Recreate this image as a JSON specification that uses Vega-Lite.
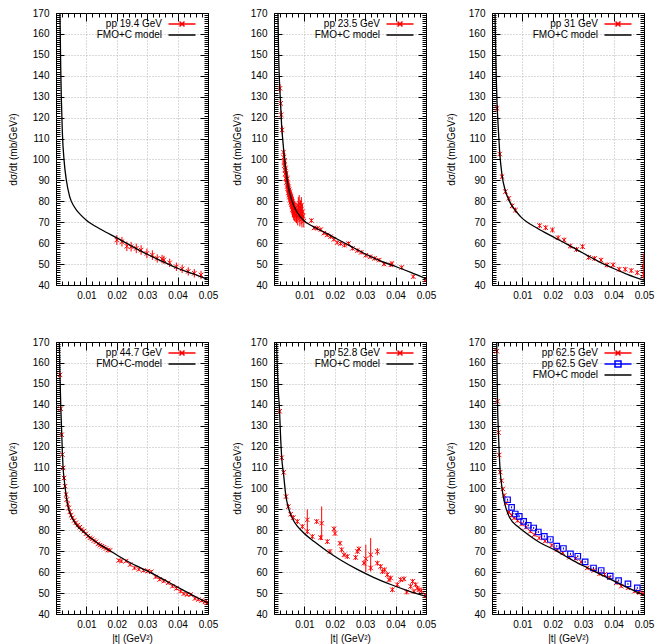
{
"$schema":"https://vega.github.io/schema/vega-lite/v6.json",
"padding":{"left":7,"top":7,"right":0,"bottom":0},
"background":"white",
"config":{
 "view":{"stroke":"#000","strokeWidth":1},
 "axis":{"labelFont":"Liberation Sans","labelFontSize":10,"labelColor":"#000","titleFont":"Liberation Sans","titleFontSize":10,"titleFontWeight":"normal","titleColor":"#000","tickColor":"#000","tickWidth":1,"gridColor":"#b4b4b4","gridDash":[1,2],"gridWidth":1},
 "legend":{"padding":0,"symbolSize":25,"symbolStrokeWidth":1.5,"labelAlign":"right","labelOffset":-25,"labelFont":"Liberation Sans","labelFontSize":10,"labelColor":"#000","rowPadding":-2,"labelLimit":200}
},
"datasets":{
"m1":[{"t":0.0013,"y":170},{"t":0.00155,"y":144.3},{"t":0.00177,"y":128.4},{"t":0.0021,"y":112.5},{"t":0.00265,"y":99.7},{"t":0.0034,"y":90.2},{"t":0.0045,"y":82.2},{"t":0.006,"y":77.4},{"t":0.0082,"y":73.4},{"t":0.01,"y":71},{"t":0.015,"y":66.4},{"t":0.02,"y":62.5},{"t":0.025,"y":58.5},{"t":0.03,"y":54.7},{"t":0.035,"y":51.3},{"t":0.04,"y":48},{"t":0.045,"y":45.4},{"t":0.05,"y":42.6}],
"d1":[{"t":0.02,"y":61.5,"lo":59.2,"hi":63.8},{"t":0.0217,"y":60.7,"lo":58.4,"hi":63},{"t":0.0233,"y":58.5,"lo":56.2,"hi":60.8},{"t":0.0247,"y":58.3,"lo":56,"hi":60.6},{"t":0.0264,"y":57.5,"lo":55.2,"hi":59.8},{"t":0.028,"y":56.7,"lo":54.4,"hi":59},{"t":0.0299,"y":55.1,"lo":52.8,"hi":57.4},{"t":0.0317,"y":54.3,"lo":52,"hi":56.6},{"t":0.0333,"y":52.7,"lo":50.7,"hi":54.7},{"t":0.0349,"y":52.4,"lo":50.4,"hi":54.4},{"t":0.0355,"y":52,"lo":50,"hi":54},{"t":0.0374,"y":50.6,"lo":48.6,"hi":52.6},{"t":0.0396,"y":48.7,"lo":46.7,"hi":50.7},{"t":0.0415,"y":47.7,"lo":45.7,"hi":49.7},{"t":0.0435,"y":46.5,"lo":44.5,"hi":48.5},{"t":0.0455,"y":45.6,"lo":43.6,"hi":47.6},{"t":0.0477,"y":44.8,"lo":42.8,"hi":46.8}],
"m2":[{"t":0.0013,"y":170},{"t":0.0015,"y":152},{"t":0.0018,"y":137},{"t":0.00197,"y":132},{"t":0.0022,"y":125.5},{"t":0.0025,"y":116.5},{"t":0.0029,"y":109},{"t":0.0033,"y":103},{"t":0.0039,"y":95},{"t":0.0047,"y":87},{"t":0.0058,"y":80.6},{"t":0.0075,"y":75},{"t":0.0096,"y":71.1},{"t":0.0129,"y":67.9},{"t":0.0173,"y":64.7},{"t":0.0206,"y":62.1},{"t":0.025,"y":58.7},{"t":0.0294,"y":55.3},{"t":0.035,"y":51.5},{"t":0.0404,"y":48.6},{"t":0.045,"y":46},{"t":0.05,"y":43}],
"d2":[{"t":0.00197,"y":134,"lo":132,"hi":136},{"t":0.0022,"y":126.8,"lo":124.8,"hi":128.8},{"t":0.0024,"y":121.3,"lo":119.3,"hi":123.3},{"t":0.0027,"y":114.1,"lo":112.1,"hi":116.1},
{"t":0.0031,"y":103.5,"lo":101.5,"hi":105.5},{"t":0.0032,"y":101,"lo":99,"hi":103},{"t":0.0033,"y":98.5,"lo":96.5,"hi":100.5},{"t":0.0034,"y":97,"lo":95,"hi":99},{"t":0.0035,"y":99.5,"lo":97,"hi":102},{"t":0.0036,"y":95,"lo":92.5,"hi":97.5},{"t":0.0037,"y":93,"lo":90.5,"hi":95.5},{"t":0.0038,"y":96,"lo":93.5,"hi":98.5},{"t":0.0039,"y":91,"lo":88.5,"hi":93.5},{"t":0.004,"y":93.5,"lo":91,"hi":96},{"t":0.0041,"y":89,"lo":86.5,"hi":91.5},{"t":0.0042,"y":90.5,"lo":87.5,"hi":93.5},{"t":0.0043,"y":87,"lo":84,"hi":90},{"t":0.0044,"y":91,"lo":88,"hi":94},{"t":0.0045,"y":86,"lo":83,"hi":89},{"t":0.0046,"y":88,"lo":85,"hi":91},{"t":0.0047,"y":84,"lo":81,"hi":87},{"t":0.0048,"y":87,"lo":84,"hi":90},{"t":0.0049,"y":83,"lo":80,"hi":86},{"t":0.005,"y":85.5,"lo":82.5,"hi":88.5},{"t":0.0051,"y":82,"lo":79,"hi":85},{"t":0.0052,"y":84.5,"lo":81.5,"hi":87.5},{"t":0.0053,"y":80.5,"lo":77.5,"hi":83.5},{"t":0.0054,"y":83,"lo":80,"hi":86},{"t":0.0055,"y":79.5,"lo":76.5,"hi":82.5},{"t":0.0056,"y":82,"lo":79,"hi":85},{"t":0.0057,"y":78.5,"lo":75.5,"hi":81.5},{"t":0.0058,"y":81,"lo":77.5,"hi":84.5},{"t":0.0059,"y":77.5,"lo":74,"hi":81},{"t":0.006,"y":80,"lo":76.5,"hi":83.5},{"t":0.0061,"y":76,"lo":72.5,"hi":79.5},{"t":0.0062,"y":79,"lo":75.5,"hi":82.5},{"t":0.0063,"y":75.5,"lo":72,"hi":79},{"t":0.0064,"y":78,"lo":74.5,"hi":81.5},{"t":0.0065,"y":74.5,"lo":71,"hi":78},{"t":0.0066,"y":77,"lo":73.5,"hi":80.5},{"t":0.0067,"y":74,"lo":70.5,"hi":77.5},{"t":0.0068,"y":76.5,"lo":73,"hi":80},{"t":0.007,"y":73.5,"lo":70,"hi":77},{"t":0.0072,"y":76,"lo":72.5,"hi":79.5},{"t":0.0074,"y":73,"lo":69.5,"hi":76.5},{"t":0.0076,"y":75.5,"lo":72,"hi":79},{"t":0.0078,"y":72.5,"lo":68.5,"hi":76.5},{"t":0.008,"y":78,"lo":74,"hi":82},{"t":0.0082,"y":74,"lo":70,"hi":78},{"t":0.0083,"y":79,"lo":75,"hi":83},{"t":0.0085,"y":72,"lo":68,"hi":76},{"t":0.0087,"y":76.5,"lo":72.5,"hi":80.5},{"t":0.0089,"y":73,"lo":69,"hi":77},{"t":0.009,"y":78,"lo":74,"hi":82},{"t":0.0092,"y":71.5,"lo":67.5,"hi":75.5},{"t":0.0094,"y":75,"lo":71,"hi":79},{"t":0.0096,"y":73,"lo":70,"hi":76},{"t":0.0098,"y":70.5,"lo":67.5,"hi":73.5},
{"t":0.0123,"y":70.8,"lo":69.8,"hi":71.8},{"t":0.0132,"y":67.3,"lo":66.3,"hi":68.3},{"t":0.0143,"y":67.1,"lo":66.1,"hi":68.1},{"t":0.0154,"y":66.5,"lo":65.5,"hi":67.5},{"t":0.0164,"y":64.8,"lo":63.8,"hi":65.8},{"t":0.0175,"y":63.9,"lo":62.9,"hi":64.9},{"t":0.0186,"y":63.1,"lo":62.1,"hi":64.1},{"t":0.0197,"y":61.8,"lo":60.8,"hi":62.8},{"t":0.0208,"y":60.3,"lo":59.3,"hi":61.3},{"t":0.0219,"y":59.8,"lo":58.8,"hi":60.8},{"t":0.0232,"y":59,"lo":58,"hi":60},{"t":0.0245,"y":59.8,"lo":58.8,"hi":60.8},{"t":0.0258,"y":57.5,"lo":56.5,"hi":58.5},{"t":0.0274,"y":56.5,"lo":55.5,"hi":57.5},{"t":0.0287,"y":55.6,"lo":54.6,"hi":56.6},{"t":0.0302,"y":54.2,"lo":53.2,"hi":55.2},{"t":0.0316,"y":53.5,"lo":52.5,"hi":54.5},{"t":0.0331,"y":52.7,"lo":51.7,"hi":53.7},{"t":0.0346,"y":51.9,"lo":50.9,"hi":52.9},{"t":0.0362,"y":50,"lo":49,"hi":51},{"t":0.0384,"y":49.6,"lo":48.6,"hi":50.6},{"t":0.0388,"y":50.3,"lo":49.3,"hi":51.3},{"t":0.042,"y":48.4,"lo":47.4,"hi":49.4},{"t":0.0458,"y":44,"lo":43,"hi":45},{"t":0.0499,"y":42.6,"lo":41.6,"hi":43.6}],
"m3":[{"t":0.001,"y":170},{"t":0.0012,"y":152},{"t":0.00166,"y":127},{"t":0.0021,"y":114},{"t":0.0025,"y":104},{"t":0.0033,"y":92.5},{"t":0.0044,"y":85},{"t":0.0055,"y":80.8},{"t":0.0066,"y":77.8},{"t":0.0094,"y":72.7},{"t":0.0149,"y":67.1},{"t":0.02,"y":63.1},{"t":0.0248,"y":59.4},{"t":0.0299,"y":55.3},{"t":0.0348,"y":51.4},{"t":0.0398,"y":48},{"t":0.0447,"y":45},{"t":0.05,"y":42.3}],
"d3":[{"t":0.00166,"y":124.4,"lo":123.2,"hi":125.6},{"t":0.00254,"y":102.6,"lo":101.4,"hi":103.8},{"t":0.00331,"y":91.8,"lo":90.6,"hi":93},{"t":0.00442,"y":84.6,"lo":83.4,"hi":85.8},{"t":0.00552,"y":81.4,"lo":80.2,"hi":82.6},{"t":0.00662,"y":77.8,"lo":76.6,"hi":79},{"t":0.00773,"y":75.8,"lo":74.6,"hi":77},{"t":0.01567,"y":68.4,"lo":67.2,"hi":69.6},{"t":0.01766,"y":67.4,"lo":66.2,"hi":68.6},{"t":0.01987,"y":66.3,"lo":65.1,"hi":67.5},{"t":0.02174,"y":62.6,"lo":61.4,"hi":63.8},{"t":0.02373,"y":61.5,"lo":60.3,"hi":62.7},{"t":0.02572,"y":58.6,"lo":57.4,"hi":59.8},{"t":0.02781,"y":57,"lo":55.8,"hi":58.2},{"t":0.0298,"y":58.3,"lo":57.1,"hi":59.5},{"t":0.03179,"y":53.2,"lo":52,"hi":54.4},{"t":0.03377,"y":52.7,"lo":51.5,"hi":53.9},{"t":0.03587,"y":51.9,"lo":50.7,"hi":53.1},{"t":0.03786,"y":49.6,"lo":48.4,"hi":50.8},{"t":0.03985,"y":49.6,"lo":48.4,"hi":50.8},{"t":0.04183,"y":47.5,"lo":46.3,"hi":48.7},{"t":0.04382,"y":47.5,"lo":46.3,"hi":48.7},{"t":0.0458,"y":46.9,"lo":45.7,"hi":48.1},{"t":0.04779,"y":45.9,"lo":44.7,"hi":47.1},{"t":0.0499,"y":48.8,"lo":43,"hi":55},{"t":0.0499,"y":45,"lo":43.5,"hi":46.5}],
"m4":[{"t":0.0011,"y":170},{"t":0.0013,"y":154},{"t":0.0016,"y":138},{"t":0.0019,"y":125.7},{"t":0.0021,"y":117},{"t":0.0023,"y":110.5},{"t":0.0026,"y":105.5},{"t":0.003,"y":100.5},{"t":0.0035,"y":95},{"t":0.0042,"y":90},{"t":0.005,"y":86.8},{"t":0.0065,"y":83},{"t":0.0093,"y":79},{"t":0.0131,"y":74.5},{"t":0.0175,"y":70.5},{"t":0.0222,"y":66.3},{"t":0.0272,"y":62.5},{"t":0.0319,"y":59.2},{"t":0.0369,"y":55.3},{"t":0.0418,"y":51.4},{"t":0.0462,"y":48},{"t":0.05,"y":45.3}],
"d4":[{"t":0.00132,"y":154.3,"lo":153.5,"hi":155.1},{"t":0.00155,"y":138.1,"lo":137.3,"hi":138.9},{"t":0.00188,"y":125.7,"lo":124.9,"hi":126.5},{"t":0.0021,"y":116.2,"lo":115.4,"hi":117},{"t":0.00232,"y":109.8,"lo":109,"hi":110.6},{"t":0.00265,"y":105,"lo":104.2,"hi":105.8},{"t":0.00298,"y":101.1,"lo":100.3,"hi":101.9},{"t":0.00331,"y":97.1,"lo":96.3,"hi":97.9},{"t":0.00353,"y":94.7,"lo":93.9,"hi":95.5},{"t":0.00386,"y":92.6,"lo":91.8,"hi":93.4},{"t":0.00419,"y":90.7,"lo":89.9,"hi":91.5},{"t":0.00453,"y":88.8,"lo":88,"hi":89.6},{"t":0.00497,"y":87.2,"lo":86.4,"hi":88},{"t":0.00541,"y":86,"lo":85.2,"hi":86.8},{"t":0.00596,"y":84.7,"lo":83.9,"hi":85.5},{"t":0.00651,"y":83.6,"lo":82.8,"hi":84.4},{"t":0.00717,"y":82.5,"lo":81.7,"hi":83.3},{"t":0.00784,"y":81.5,"lo":80.7,"hi":82.3},{"t":0.0085,"y":80.4,"lo":79.6,"hi":81.2},{"t":0.00916,"y":79.6,"lo":78.8,"hi":80.4},{"t":0.00982,"y":78.3,"lo":77.5,"hi":79.1},{"t":0.01049,"y":77.2,"lo":76.4,"hi":78},{"t":0.01115,"y":76.4,"lo":75.6,"hi":77.2},{"t":0.01181,"y":75.9,"lo":75.1,"hi":76.7},{"t":0.01247,"y":75.1,"lo":74.3,"hi":75.9},{"t":0.01313,"y":74.5,"lo":73.7,"hi":75.3},{"t":0.0138,"y":73.5,"lo":72.7,"hi":74.3},{"t":0.01446,"y":72.9,"lo":72.1,"hi":73.7},{"t":0.01512,"y":72.4,"lo":71.6,"hi":73.2},{"t":0.01578,"y":71.9,"lo":71.1,"hi":72.7},{"t":0.01645,"y":71.3,"lo":70.5,"hi":72.1},{"t":0.01711,"y":70.6,"lo":69.8,"hi":71.4},{"t":0.01777,"y":70.4,"lo":69.6,"hi":71.2},{"t":0.02064,"y":65.6,"lo":64.8,"hi":66.4},{"t":0.02152,"y":65.3,"lo":64.5,"hi":66.1},{"t":0.02307,"y":65.3,"lo":64.5,"hi":66.1},{"t":0.02439,"y":63.6,"lo":62.8,"hi":64.4},{"t":0.02583,"y":62,"lo":61.2,"hi":62.8},{"t":0.02726,"y":61.3,"lo":60.5,"hi":62.1},{"t":0.02881,"y":60.8,"lo":60,"hi":61.6},{"t":0.03024,"y":60.5,"lo":59.7,"hi":61.3},{"t":0.03135,"y":60.2,"lo":59.4,"hi":61},{"t":0.03278,"y":57.7,"lo":56.9,"hi":58.5},{"t":0.03411,"y":56.5,"lo":55.7,"hi":57.3},{"t":0.03543,"y":55.7,"lo":54.9,"hi":56.5},{"t":0.03687,"y":54.9,"lo":54.1,"hi":55.7},{"t":0.0383,"y":53.3,"lo":52.5,"hi":54.1},{"t":0.03962,"y":52.2,"lo":51.4,"hi":53},{"t":0.04095,"y":50.9,"lo":50.1,"hi":51.7},{"t":0.04205,"y":49.7,"lo":48.9,"hi":50.5},{"t":0.04316,"y":49.3,"lo":48.5,"hi":50.1},{"t":0.04426,"y":49.3,"lo":48.5,"hi":50.1},{"t":0.0457,"y":47.4,"lo":46.6,"hi":48.2},{"t":0.0468,"y":46.9,"lo":46.1,"hi":47.7},{"t":0.0479,"y":46.4,"lo":45.6,"hi":47.2},{"t":0.049,"y":45.8,"lo":45,"hi":46.6},{"t":0.04978,"y":45.4,"lo":44.6,"hi":46.2}],
"m5":[{"t":0.0008,"y":170},{"t":0.0011,"y":158},{"t":0.0014,"y":147},{"t":0.0018,"y":138},{"t":0.0021,"y":127},{"t":0.0025,"y":115.5},{"t":0.0032,"y":106},{"t":0.0039,"y":96.5},{"t":0.0047,"y":91},{"t":0.0055,"y":87.5},{"t":0.0066,"y":84.2},{"t":0.0093,"y":79.4},{"t":0.0132,"y":74.6},{"t":0.0175,"y":70},{"t":0.0219,"y":65.8},{"t":0.0274,"y":61.3},{"t":0.0329,"y":57.4},{"t":0.0384,"y":54.1},{"t":0.0439,"y":51.2},{"t":0.05,"y":48.4}],
"d5":[{"t":0.00186,"y":136.9,"lo":135.7,"hi":138.1},{"t":0.00252,"y":114.7,"lo":113.5,"hi":115.9},{"t":0.00318,"y":107.7,"lo":106.5,"hi":108.9},{"t":0.00395,"y":96.1,"lo":94.9,"hi":97.3},{"t":0.00471,"y":91.3,"lo":90.1,"hi":92.5},{"t":0.00548,"y":87.7,"lo":86.5,"hi":88.9},{"t":0.00636,"y":86.1,"lo":84.9,"hi":87.3},{"t":0.00768,"y":84.2,"lo":83,"hi":85.4},{"t":0.00932,"y":81.8,"lo":80.6,"hi":83},{"t":0.01096,"y":85,"lo":80,"hi":90},{"t":0.01096,"y":79.4,"lo":78.2,"hi":80.6},{"t":0.01261,"y":77,"lo":75.8,"hi":78.2},{"t":0.01404,"y":84.2,"lo":83,"hi":85.4},{"t":0.01535,"y":76.5,"lo":75.3,"hi":77.7},{"t":0.01568,"y":83.4,"lo":75.4,"hi":91.4},{"t":0.01754,"y":74.6,"lo":73.4,"hi":75.8},{"t":0.01842,"y":69.9,"lo":68.7,"hi":71.1},{"t":0.01974,"y":80.7,"lo":79.5,"hi":81.9},{"t":0.02007,"y":78.5,"lo":77.3,"hi":79.7},{"t":0.02171,"y":73.8,"lo":72.6,"hi":75},{"t":0.02226,"y":70.7,"lo":69.5,"hi":71.9},{"t":0.02303,"y":68.3,"lo":67.1,"hi":69.5},{"t":0.02412,"y":67.5,"lo":66.3,"hi":68.7},{"t":0.02686,"y":67,"lo":65.8,"hi":68.2},{"t":0.02741,"y":69.9,"lo":68.7,"hi":71.1},{"t":0.02796,"y":71.1,"lo":69.9,"hi":72.3},{"t":0.02961,"y":64.3,"lo":63.1,"hi":65.5},{"t":0.0302,"y":66.4,"lo":60,"hi":73.1},{"t":0.0318,"y":68.3,"lo":60.3,"hi":76.3},{"t":0.0318,"y":62,"lo":60.8,"hi":63.2},{"t":0.034,"y":69.9,"lo":68,"hi":71.5},{"t":0.034,"y":64.3,"lo":63.1,"hi":65.5},{"t":0.03509,"y":62.7,"lo":61.5,"hi":63.9},{"t":0.03564,"y":60.3,"lo":59.1,"hi":61.5},{"t":0.0364,"y":61.1,"lo":59.9,"hi":62.3},{"t":0.03728,"y":58.8,"lo":57.6,"hi":60},{"t":0.03783,"y":56.4,"lo":55.2,"hi":57.6},{"t":0.03838,"y":57.2,"lo":56,"hi":58.4},{"t":0.03893,"y":51.6,"lo":50.4,"hi":52.8},{"t":0.04057,"y":54,"lo":52.8,"hi":55.2},{"t":0.04167,"y":56.4,"lo":55.2,"hi":57.6},{"t":0.04276,"y":56.8,"lo":55.6,"hi":58},{"t":0.04364,"y":50.5,"lo":49.3,"hi":51.7},{"t":0.04496,"y":53.2,"lo":52,"hi":54.4},{"t":0.04561,"y":55.6,"lo":54.4,"hi":56.8},{"t":0.04605,"y":50.8,"lo":49.6,"hi":52},{"t":0.0466,"y":54,"lo":52.8,"hi":55.2},{"t":0.04715,"y":52.4,"lo":51.2,"hi":53.6},{"t":0.0477,"y":51.6,"lo":50.4,"hi":52.8},{"t":0.04846,"y":51.1,"lo":49.9,"hi":52.3},{"t":0.04989,"y":48.7,"lo":47.5,"hi":49.9}],
"m6":[{"t":0.00155,"y":170},{"t":0.0016,"y":165.5},{"t":0.0018,"y":142},{"t":0.0021,"y":127},{"t":0.0024,"y":116},{"t":0.0027,"y":108},{"t":0.0031,"y":102.5},{"t":0.0036,"y":97},{"t":0.0046,"y":90.6},{"t":0.0058,"y":86.1},{"t":0.0084,"y":81.9},{"t":0.0102,"y":79.8},{"t":0.0157,"y":74.2},{"t":0.0212,"y":70.2},{"t":0.0267,"y":65.5},{"t":0.0322,"y":61.5},{"t":0.0377,"y":57.5},{"t":0.0432,"y":53.6},{"t":0.05,"y":49}],
"d6a":[{"t":0.0016,"y":165.6,"lo":164.8,"hi":166.4},{"t":0.0018,"y":141.7,"lo":140.9,"hi":142.5},{"t":0.00215,"y":126.7,"lo":125.9,"hi":127.5},{"t":0.00237,"y":116,"lo":115.2,"hi":116.8},{"t":0.0027,"y":107.8,"lo":107,"hi":108.6},{"t":0.00314,"y":103.7,"lo":102.9,"hi":104.5},{"t":0.00358,"y":99.8,"lo":99,"hi":100.6},{"t":0.00402,"y":96.7,"lo":95.9,"hi":97.5},{"t":0.00468,"y":93,"lo":92.2,"hi":93.8},{"t":0.00556,"y":88.7,"lo":87.9,"hi":89.5},{"t":0.00644,"y":87.1,"lo":86.3,"hi":87.9},{"t":0.00732,"y":85.9,"lo":85.1,"hi":86.7},{"t":0.00842,"y":84.6,"lo":83.8,"hi":85.4},{"t":0.00974,"y":83,"lo":82.2,"hi":83.8},{"t":0.01117,"y":81.4,"lo":80.6,"hi":82.2},{"t":0.0126,"y":79.5,"lo":78.7,"hi":80.3},{"t":0.01392,"y":77.9,"lo":77.1,"hi":78.7},{"t":0.01557,"y":76.3,"lo":75.5,"hi":77.1},{"t":0.01744,"y":74.8,"lo":74,"hi":75.6},{"t":0.01964,"y":72.9,"lo":72.1,"hi":73.7},{"t":0.0214,"y":70.8,"lo":70,"hi":71.6},{"t":0.02327,"y":69.2,"lo":68.4,"hi":70},{"t":0.02547,"y":67.1,"lo":66.3,"hi":67.9},{"t":0.02745,"y":66.5,"lo":65.7,"hi":67.3},{"t":0.02932,"y":64.9,"lo":64.1,"hi":65.7},{"t":0.0313,"y":62,"lo":61.2,"hi":62.8},{"t":0.0335,"y":60.8,"lo":60,"hi":61.6},{"t":0.03537,"y":59.2,"lo":58.4,"hi":60},{"t":0.03702,"y":58.9,"lo":58.1,"hi":59.7},{"t":0.03867,"y":57.3,"lo":56.5,"hi":58.1},{"t":0.04087,"y":54.9,"lo":54.1,"hi":55.7},{"t":0.04252,"y":53.3,"lo":52.5,"hi":54.1},{"t":0.04472,"y":52.5,"lo":51.7,"hi":53.3},{"t":0.04692,"y":50.9,"lo":50.1,"hi":51.7},{"t":0.04857,"y":50.2,"lo":49.4,"hi":51},{"t":0.04967,"y":49.7,"lo":48.9,"hi":50.5}],
"d6b":[{"t":0.00512,"y":94.6,"lo":94.1,"hi":95.1},{"t":0.00644,"y":91,"lo":90.5,"hi":91.5},{"t":0.00765,"y":87.8,"lo":87.3,"hi":88.3},{"t":0.00897,"y":86.7,"lo":86.2,"hi":87.2},{"t":0.0104,"y":84.3,"lo":83.8,"hi":84.8},{"t":0.01194,"y":82.4,"lo":81.9,"hi":82.9},{"t":0.0137,"y":81.1,"lo":80.6,"hi":81.6},{"t":0.01524,"y":79.2,"lo":78.7,"hi":79.7},{"t":0.01722,"y":77.1,"lo":76.6,"hi":77.6},{"t":0.0192,"y":75.6,"lo":75.1,"hi":76.1},{"t":0.02129,"y":72.4,"lo":71.9,"hi":72.9},{"t":0.02349,"y":71.3,"lo":70.8,"hi":71.8},{"t":0.0258,"y":68.7,"lo":68.2,"hi":69.2},{"t":0.02822,"y":67.6,"lo":67.1,"hi":68.1},{"t":0.03064,"y":64.9,"lo":64.4,"hi":65.4},{"t":0.03339,"y":62,"lo":61.5,"hi":62.5},{"t":0.03592,"y":60.8,"lo":60.3,"hi":61.3},{"t":0.03889,"y":58.1,"lo":57.6,"hi":58.6},{"t":0.04164,"y":56,"lo":55.5,"hi":56.5},{"t":0.04472,"y":54.4,"lo":53.9,"hi":54.9},{"t":0.0478,"y":52.5,"lo":52,"hi":53}]
},
"spacing":31,
"bounds":"full",
"resolve":{"scale":{"color":"independent"},"legend":{"color":"independent"}},
"vconcat":[
{"hconcat":[
 {"width":152,"height":272,"layer":[
  {"data":{"name":"d1"},"mark":{"type":"rule","clip":true,"color":"#ff0000","strokeWidth":1},"encoding":{"x":{"field":"t","type":"quantitative","scale":{"domain":[0,0.05],"nice":false,"zero":false},"axis":{"orient":"top","values":[0,0.002,0.004,0.006,0.008,0.01,0.012,0.014,0.016,0.018,0.02,0.022,0.024,0.026,0.028,0.03,0.032,0.034,0.036,0.038,0.04,0.042,0.044,0.046,0.048,0.05],"labels":false,"grid":false,"domain":false,"title":null,"tickSize":{"condition":{"test":"abs(datum.value*100 - round(datum.value*100)) < 0.000001","value":-8},"value":-4}}},"y":{"field":"lo","type":"quantitative","scale":{"domain":[40,170],"nice":false,"zero":false},"axis":{"orient":"right","values":[40,41,42,43,44,45,46,47,48,49,50,51,52,53,54,55,56,57,58,59,60,61,62,63,64,65,66,67,68,69,70,71,72,73,74,75,76,77,78,79,80,81,82,83,84,85,86,87,88,89,90,91,92,93,94,95,96,97,98,99,100,101,102,103,104,105,106,107,108,109,110,111,112,113,114,115,116,117,118,119,120,121,122,123,124,125,126,127,128,129,130,131,132,133,134,135,136,137,138,139,140,141,142,143,144,145,146,147,148,149,150,151,152,153,154,155,156,157,158,159,160,161,162,163,164,165,166,167,168,169,170],"labels":false,"grid":false,"domain":false,"title":null,"tickSize":{"condition":{"test":"datum.value % 10 === 0","value":-8},"value":-4}}},"y2":{"field":"hi"}}},
  {"data":{"name":"d1"},"mark":{"type":"point","shape":"M-1,-1L1,1M-1,1L1,-1","filled":false,"size":20,"color":"#ff0000","strokeWidth":1,"opacity":1,"clip":true},"encoding":{"x":{"field":"t","type":"quantitative","axis":null},"y":{"field":"y","type":"quantitative","axis":null}}},
  {"data":{"name":"m1"},"mark":{"type":"line","interpolate":"monotone","clip":true,"strokeWidth":1.3},"encoding":{"x":{"field":"t","type":"quantitative","axis":{"orient":"bottom","values":[0,0.002,0.004,0.006,0.008,0.01,0.012,0.014,0.016,0.018,0.02,0.022,0.024,0.026,0.028,0.03,0.032,0.034,0.036,0.038,0.04,0.042,0.044,0.046,0.048,0.05],"labelExpr":"abs(datum.value*100 - round(datum.value*100)) < 0.000001 && datum.value > 0.001 ? format(datum.value, '.2f') : ''","labelOverlap":false,"labelFlush":false,"labelPadding":13,"domain":false,"grid":true,"gridOpacity":{"condition":{"test":"abs(datum.value*100 - round(datum.value*100)) < 0.000001 && datum.value > 0.001 && datum.value < 0.049","value":1},"value":0},"title":null,"tickSize":{"condition":{"test":"abs(datum.value*100 - round(datum.value*100)) < 0.000001","value":-8},"value":-4}}},"y":{"field":"y","type":"quantitative","axis":{"orient":"left","values":[40,41,42,43,44,45,46,47,48,49,50,51,52,53,54,55,56,57,58,59,60,61,62,63,64,65,66,67,68,69,70,71,72,73,74,75,76,77,78,79,80,81,82,83,84,85,86,87,88,89,90,91,92,93,94,95,96,97,98,99,100,101,102,103,104,105,106,107,108,109,110,111,112,113,114,115,116,117,118,119,120,121,122,123,124,125,126,127,128,129,130,131,132,133,134,135,136,137,138,139,140,141,142,143,144,145,146,147,148,149,150,151,152,153,154,155,156,157,158,159,160,161,162,163,164,165,166,167,168,169,170],"labelExpr":"datum.value % 10 === 0 ? datum.label : ''","labelOverlap":false,"labelPadding":15,"domain":false,"grid":true,"gridOpacity":{"condition":{"test":"datum.value % 10 === 0 && datum.value > 40 && datum.value < 170","value":1},"value":0},"title":"dσ/dt (mb/GeV²)","titlePadding":14,"tickSize":{"condition":{"test":"datum.value % 10 === 0","value":-8},"value":-4}}},"color":{"datum":"FMO+C model","type":"nominal","scale":{"domain":["pp 19.4 GeV","FMO+C model"],"range":["#ff0000","#000000"]},"legend":{"title":null,"orient":"none","legendX":121,"legendY":6,"labelExpr":"replace(datum.label, ' set 2', '')","encode":{"symbols":{"update":{"shape":{"signal":"indexof(datum.value, 'FMO') === 0 ? 'M-5.4,0L5.4,0' : (indexof(datum.value, 'set 2') >= 0 ? 'M-5.4,0L5.4,0M-1.2,-1.2L1.2,-1.2L1.2,1.2L-1.2,1.2Z' : 'M-5.4,0L5.4,0M-1,-1L1,1M-1,1L1,-1')"},"stroke":{"signal":"indexof(datum.value, 'FMO') === 0 ? '#000000' : (indexof(datum.value, 'set 2') >= 0 ? '#0000ff' : '#ff0000')"},"fill":{"value":"transparent"},"strokeWidth":{"value":1.5}}}}}}}}
 ],"resolve":{"axis":{"x":"independent","y":"independent"}}},
 {"width":152,"height":272,"layer":[
  {"data":{"name":"d2"},"mark":{"type":"rule","clip":true,"color":"#ff0000","strokeWidth":1},"encoding":{"x":{"field":"t","type":"quantitative","scale":{"domain":[0,0.05],"nice":false,"zero":false},"axis":{"orient":"top","values":[0,0.002,0.004,0.006,0.008,0.01,0.012,0.014,0.016,0.018,0.02,0.022,0.024,0.026,0.028,0.03,0.032,0.034,0.036,0.038,0.04,0.042,0.044,0.046,0.048,0.05],"labels":false,"grid":false,"domain":false,"title":null,"tickSize":{"condition":{"test":"abs(datum.value*100 - round(datum.value*100)) < 0.000001","value":-8},"value":-4}}},"y":{"field":"lo","type":"quantitative","scale":{"domain":[40,170],"nice":false,"zero":false},"axis":{"orient":"right","values":[40,41,42,43,44,45,46,47,48,49,50,51,52,53,54,55,56,57,58,59,60,61,62,63,64,65,66,67,68,69,70,71,72,73,74,75,76,77,78,79,80,81,82,83,84,85,86,87,88,89,90,91,92,93,94,95,96,97,98,99,100,101,102,103,104,105,106,107,108,109,110,111,112,113,114,115,116,117,118,119,120,121,122,123,124,125,126,127,128,129,130,131,132,133,134,135,136,137,138,139,140,141,142,143,144,145,146,147,148,149,150,151,152,153,154,155,156,157,158,159,160,161,162,163,164,165,166,167,168,169,170],"labels":false,"grid":false,"domain":false,"title":null,"tickSize":{"condition":{"test":"datum.value % 10 === 0","value":-8},"value":-4}}},"y2":{"field":"hi"}}},
  {"data":{"name":"d2"},"mark":{"type":"point","shape":"M-1,-1L1,1M-1,1L1,-1","filled":false,"size":20,"color":"#ff0000","strokeWidth":1,"opacity":1,"clip":true},"encoding":{"x":{"field":"t","type":"quantitative","axis":null},"y":{"field":"y","type":"quantitative","axis":null}}},
  {"data":{"name":"m2"},"mark":{"type":"line","interpolate":"monotone","clip":true,"strokeWidth":1.3},"encoding":{"x":{"field":"t","type":"quantitative","axis":{"orient":"bottom","values":[0,0.002,0.004,0.006,0.008,0.01,0.012,0.014,0.016,0.018,0.02,0.022,0.024,0.026,0.028,0.03,0.032,0.034,0.036,0.038,0.04,0.042,0.044,0.046,0.048,0.05],"labelExpr":"abs(datum.value*100 - round(datum.value*100)) < 0.000001 && datum.value > 0.001 ? format(datum.value, '.2f') : ''","labelOverlap":false,"labelFlush":false,"labelPadding":13,"domain":false,"grid":true,"gridOpacity":{"condition":{"test":"abs(datum.value*100 - round(datum.value*100)) < 0.000001 && datum.value > 0.001 && datum.value < 0.049","value":1},"value":0},"title":null,"tickSize":{"condition":{"test":"abs(datum.value*100 - round(datum.value*100)) < 0.000001","value":-8},"value":-4}}},"y":{"field":"y","type":"quantitative","axis":{"orient":"left","values":[40,41,42,43,44,45,46,47,48,49,50,51,52,53,54,55,56,57,58,59,60,61,62,63,64,65,66,67,68,69,70,71,72,73,74,75,76,77,78,79,80,81,82,83,84,85,86,87,88,89,90,91,92,93,94,95,96,97,98,99,100,101,102,103,104,105,106,107,108,109,110,111,112,113,114,115,116,117,118,119,120,121,122,123,124,125,126,127,128,129,130,131,132,133,134,135,136,137,138,139,140,141,142,143,144,145,146,147,148,149,150,151,152,153,154,155,156,157,158,159,160,161,162,163,164,165,166,167,168,169,170],"labelExpr":"datum.value % 10 === 0 ? datum.label : ''","labelOverlap":false,"labelPadding":15,"domain":false,"grid":true,"gridOpacity":{"condition":{"test":"datum.value % 10 === 0 && datum.value > 40 && datum.value < 170","value":1},"value":0},"title":"dσ/dt (mb/GeV²)","titlePadding":8,"tickSize":{"condition":{"test":"datum.value % 10 === 0","value":-8},"value":-4}}},"color":{"datum":"FMO+C model","type":"nominal","scale":{"domain":["pp 23.5 GeV","FMO+C model"],"range":["#ff0000","#000000"]},"legend":{"title":null,"orient":"none","legendX":121,"legendY":6,"labelExpr":"replace(datum.label, ' set 2', '')","encode":{"symbols":{"update":{"shape":{"signal":"indexof(datum.value, 'FMO') === 0 ? 'M-5.4,0L5.4,0' : (indexof(datum.value, 'set 2') >= 0 ? 'M-5.4,0L5.4,0M-1.2,-1.2L1.2,-1.2L1.2,1.2L-1.2,1.2Z' : 'M-5.4,0L5.4,0M-1,-1L1,1M-1,1L1,-1')"},"stroke":{"signal":"indexof(datum.value, 'FMO') === 0 ? '#000000' : (indexof(datum.value, 'set 2') >= 0 ? '#0000ff' : '#ff0000')"},"fill":{"value":"transparent"},"strokeWidth":{"value":1.5}}}}}}}}
 ],"resolve":{"axis":{"x":"independent","y":"independent"}}},
 {"width":152,"height":272,"layer":[
  {"data":{"name":"d3"},"mark":{"type":"rule","clip":true,"color":"#ff0000","strokeWidth":1},"encoding":{"x":{"field":"t","type":"quantitative","scale":{"domain":[0,0.05],"nice":false,"zero":false},"axis":{"orient":"top","values":[0,0.002,0.004,0.006,0.008,0.01,0.012,0.014,0.016,0.018,0.02,0.022,0.024,0.026,0.028,0.03,0.032,0.034,0.036,0.038,0.04,0.042,0.044,0.046,0.048,0.05],"labels":false,"grid":false,"domain":false,"title":null,"tickSize":{"condition":{"test":"abs(datum.value*100 - round(datum.value*100)) < 0.000001","value":-8},"value":-4}}},"y":{"field":"lo","type":"quantitative","scale":{"domain":[40,170],"nice":false,"zero":false},"axis":{"orient":"right","values":[40,41,42,43,44,45,46,47,48,49,50,51,52,53,54,55,56,57,58,59,60,61,62,63,64,65,66,67,68,69,70,71,72,73,74,75,76,77,78,79,80,81,82,83,84,85,86,87,88,89,90,91,92,93,94,95,96,97,98,99,100,101,102,103,104,105,106,107,108,109,110,111,112,113,114,115,116,117,118,119,120,121,122,123,124,125,126,127,128,129,130,131,132,133,134,135,136,137,138,139,140,141,142,143,144,145,146,147,148,149,150,151,152,153,154,155,156,157,158,159,160,161,162,163,164,165,166,167,168,169,170],"labels":false,"grid":false,"domain":false,"title":null,"tickSize":{"condition":{"test":"datum.value % 10 === 0","value":-8},"value":-4}}},"y2":{"field":"hi"}}},
  {"data":{"name":"d3"},"mark":{"type":"point","shape":"M-1,-1L1,1M-1,1L1,-1","filled":false,"size":20,"color":"#ff0000","strokeWidth":1,"opacity":1,"clip":true},"encoding":{"x":{"field":"t","type":"quantitative","axis":null},"y":{"field":"y","type":"quantitative","axis":null}}},
  {"data":{"name":"m3"},"mark":{"type":"line","interpolate":"monotone","clip":true,"strokeWidth":1.3},"encoding":{"x":{"field":"t","type":"quantitative","axis":{"orient":"bottom","values":[0,0.002,0.004,0.006,0.008,0.01,0.012,0.014,0.016,0.018,0.02,0.022,0.024,0.026,0.028,0.03,0.032,0.034,0.036,0.038,0.04,0.042,0.044,0.046,0.048,0.05],"labelExpr":"abs(datum.value*100 - round(datum.value*100)) < 0.000001 && datum.value > 0.001 ? format(datum.value, '.2f') : ''","labelOverlap":false,"labelFlush":false,"labelPadding":13,"domain":false,"grid":true,"gridOpacity":{"condition":{"test":"abs(datum.value*100 - round(datum.value*100)) < 0.000001 && datum.value > 0.001 && datum.value < 0.049","value":1},"value":0},"title":null,"tickSize":{"condition":{"test":"abs(datum.value*100 - round(datum.value*100)) < 0.000001","value":-8},"value":-4}}},"y":{"field":"y","type":"quantitative","axis":{"orient":"left","values":[40,41,42,43,44,45,46,47,48,49,50,51,52,53,54,55,56,57,58,59,60,61,62,63,64,65,66,67,68,69,70,71,72,73,74,75,76,77,78,79,80,81,82,83,84,85,86,87,88,89,90,91,92,93,94,95,96,97,98,99,100,101,102,103,104,105,106,107,108,109,110,111,112,113,114,115,116,117,118,119,120,121,122,123,124,125,126,127,128,129,130,131,132,133,134,135,136,137,138,139,140,141,142,143,144,145,146,147,148,149,150,151,152,153,154,155,156,157,158,159,160,161,162,163,164,165,166,167,168,169,170],"labelExpr":"datum.value % 10 === 0 ? datum.label : ''","labelOverlap":false,"labelPadding":15,"domain":false,"grid":true,"gridOpacity":{"condition":{"test":"datum.value % 10 === 0 && datum.value > 40 && datum.value < 170","value":1},"value":0},"title":"dσ/dt (mb/GeV²)","titlePadding":12,"tickSize":{"condition":{"test":"datum.value % 10 === 0","value":-8},"value":-4}}},"color":{"datum":"FMO+C model","type":"nominal","scale":{"domain":["pp 31 GeV","FMO+C model"],"range":["#ff0000","#000000"]},"legend":{"title":null,"orient":"none","legendX":121,"legendY":6,"labelExpr":"replace(datum.label, ' set 2', '')","encode":{"symbols":{"update":{"shape":{"signal":"indexof(datum.value, 'FMO') === 0 ? 'M-5.4,0L5.4,0' : (indexof(datum.value, 'set 2') >= 0 ? 'M-5.4,0L5.4,0M-1.2,-1.2L1.2,-1.2L1.2,1.2L-1.2,1.2Z' : 'M-5.4,0L5.4,0M-1,-1L1,1M-1,1L1,-1')"},"stroke":{"signal":"indexof(datum.value, 'FMO') === 0 ? '#000000' : (indexof(datum.value, 'set 2') >= 0 ? '#0000ff' : '#ff0000')"},"fill":{"value":"transparent"},"strokeWidth":{"value":1.5}}}}}}}}
 ],"resolve":{"axis":{"x":"independent","y":"independent"}}}
],"spacing":66,"bounds":"flush","resolve":{"scale":{"color":"independent"},"legend":{"color":"independent"}}},
{"hconcat":[
 {"width":152,"height":272,"layer":[
  {"data":{"name":"d4"},"mark":{"type":"rule","clip":true,"color":"#ff0000","strokeWidth":1},"encoding":{"x":{"field":"t","type":"quantitative","scale":{"domain":[0,0.05],"nice":false,"zero":false},"axis":{"orient":"top","values":[0,0.002,0.004,0.006,0.008,0.01,0.012,0.014,0.016,0.018,0.02,0.022,0.024,0.026,0.028,0.03,0.032,0.034,0.036,0.038,0.04,0.042,0.044,0.046,0.048,0.05],"labels":false,"grid":false,"domain":false,"title":null,"tickSize":{"condition":{"test":"abs(datum.value*100 - round(datum.value*100)) < 0.000001","value":-8},"value":-4}}},"y":{"field":"lo","type":"quantitative","scale":{"domain":[40,170],"nice":false,"zero":false},"axis":{"orient":"right","values":[40,41,42,43,44,45,46,47,48,49,50,51,52,53,54,55,56,57,58,59,60,61,62,63,64,65,66,67,68,69,70,71,72,73,74,75,76,77,78,79,80,81,82,83,84,85,86,87,88,89,90,91,92,93,94,95,96,97,98,99,100,101,102,103,104,105,106,107,108,109,110,111,112,113,114,115,116,117,118,119,120,121,122,123,124,125,126,127,128,129,130,131,132,133,134,135,136,137,138,139,140,141,142,143,144,145,146,147,148,149,150,151,152,153,154,155,156,157,158,159,160,161,162,163,164,165,166,167,168,169,170],"labels":false,"grid":false,"domain":false,"title":null,"tickSize":{"condition":{"test":"datum.value % 10 === 0","value":-8},"value":-4}}},"y2":{"field":"hi"}}},
  {"data":{"name":"d4"},"mark":{"type":"point","shape":"M-1,-1L1,1M-1,1L1,-1","filled":false,"size":20,"color":"#ff0000","strokeWidth":1,"opacity":1,"clip":true},"encoding":{"x":{"field":"t","type":"quantitative","axis":null},"y":{"field":"y","type":"quantitative","axis":null}}},
  {"data":{"name":"m4"},"mark":{"type":"line","interpolate":"monotone","clip":true,"strokeWidth":1.3},"encoding":{"x":{"field":"t","type":"quantitative","axis":{"orient":"bottom","values":[0,0.002,0.004,0.006,0.008,0.01,0.012,0.014,0.016,0.018,0.02,0.022,0.024,0.026,0.028,0.03,0.032,0.034,0.036,0.038,0.04,0.042,0.044,0.046,0.048,0.05],"labelExpr":"abs(datum.value*100 - round(datum.value*100)) < 0.000001 && datum.value > 0.001 ? format(datum.value, '.2f') : ''","labelOverlap":false,"labelFlush":false,"labelPadding":13,"domain":false,"grid":true,"gridOpacity":{"condition":{"test":"abs(datum.value*100 - round(datum.value*100)) < 0.000001 && datum.value > 0.001 && datum.value < 0.049","value":1},"value":0},"title":"|t| (GeV²)","titlePadding":0,"tickSize":{"condition":{"test":"abs(datum.value*100 - round(datum.value*100)) < 0.000001","value":-8},"value":-4}}},"y":{"field":"y","type":"quantitative","axis":{"orient":"left","values":[40,41,42,43,44,45,46,47,48,49,50,51,52,53,54,55,56,57,58,59,60,61,62,63,64,65,66,67,68,69,70,71,72,73,74,75,76,77,78,79,80,81,82,83,84,85,86,87,88,89,90,91,92,93,94,95,96,97,98,99,100,101,102,103,104,105,106,107,108,109,110,111,112,113,114,115,116,117,118,119,120,121,122,123,124,125,126,127,128,129,130,131,132,133,134,135,136,137,138,139,140,141,142,143,144,145,146,147,148,149,150,151,152,153,154,155,156,157,158,159,160,161,162,163,164,165,166,167,168,169,170],"labelExpr":"datum.value % 10 === 0 ? datum.label : ''","labelOverlap":false,"labelPadding":15,"domain":false,"grid":true,"gridOpacity":{"condition":{"test":"datum.value % 10 === 0 && datum.value > 40 && datum.value < 170","value":1},"value":0},"title":"dσ/dt (mb/GeV²)","titlePadding":14,"tickSize":{"condition":{"test":"datum.value % 10 === 0","value":-8},"value":-4}}},"color":{"datum":"FMO+C-model","type":"nominal","scale":{"domain":["pp 44.7 GeV","FMO+C-model"],"range":["#ff0000","#000000"]},"legend":{"title":null,"orient":"none","legendX":121,"legendY":6,"labelExpr":"replace(datum.label, ' set 2', '')","encode":{"symbols":{"update":{"shape":{"signal":"indexof(datum.value, 'FMO') === 0 ? 'M-5.4,0L5.4,0' : (indexof(datum.value, 'set 2') >= 0 ? 'M-5.4,0L5.4,0M-1.2,-1.2L1.2,-1.2L1.2,1.2L-1.2,1.2Z' : 'M-5.4,0L5.4,0M-1,-1L1,1M-1,1L1,-1')"},"stroke":{"signal":"indexof(datum.value, 'FMO') === 0 ? '#000000' : (indexof(datum.value, 'set 2') >= 0 ? '#0000ff' : '#ff0000')"},"fill":{"value":"transparent"},"strokeWidth":{"value":1.5}}}}}}}}
 ],"resolve":{"axis":{"x":"independent","y":"independent"}}},
 {"width":152,"height":272,"layer":[
  {"data":{"name":"d5"},"mark":{"type":"rule","clip":true,"color":"#ff0000","strokeWidth":1},"encoding":{"x":{"field":"t","type":"quantitative","scale":{"domain":[0,0.05],"nice":false,"zero":false},"axis":{"orient":"top","values":[0,0.002,0.004,0.006,0.008,0.01,0.012,0.014,0.016,0.018,0.02,0.022,0.024,0.026,0.028,0.03,0.032,0.034,0.036,0.038,0.04,0.042,0.044,0.046,0.048,0.05],"labels":false,"grid":false,"domain":false,"title":null,"tickSize":{"condition":{"test":"abs(datum.value*100 - round(datum.value*100)) < 0.000001","value":-8},"value":-4}}},"y":{"field":"lo","type":"quantitative","scale":{"domain":[40,170],"nice":false,"zero":false},"axis":{"orient":"right","values":[40,41,42,43,44,45,46,47,48,49,50,51,52,53,54,55,56,57,58,59,60,61,62,63,64,65,66,67,68,69,70,71,72,73,74,75,76,77,78,79,80,81,82,83,84,85,86,87,88,89,90,91,92,93,94,95,96,97,98,99,100,101,102,103,104,105,106,107,108,109,110,111,112,113,114,115,116,117,118,119,120,121,122,123,124,125,126,127,128,129,130,131,132,133,134,135,136,137,138,139,140,141,142,143,144,145,146,147,148,149,150,151,152,153,154,155,156,157,158,159,160,161,162,163,164,165,166,167,168,169,170],"labels":false,"grid":false,"domain":false,"title":null,"tickSize":{"condition":{"test":"datum.value % 10 === 0","value":-8},"value":-4}}},"y2":{"field":"hi"}}},
  {"data":{"name":"d5"},"mark":{"type":"point","shape":"M-1,-1L1,1M-1,1L1,-1","filled":false,"size":20,"color":"#ff0000","strokeWidth":1,"opacity":1,"clip":true},"encoding":{"x":{"field":"t","type":"quantitative","axis":null},"y":{"field":"y","type":"quantitative","axis":null}}},
  {"data":{"name":"m5"},"mark":{"type":"line","interpolate":"monotone","clip":true,"strokeWidth":1.3},"encoding":{"x":{"field":"t","type":"quantitative","axis":{"orient":"bottom","values":[0,0.002,0.004,0.006,0.008,0.01,0.012,0.014,0.016,0.018,0.02,0.022,0.024,0.026,0.028,0.03,0.032,0.034,0.036,0.038,0.04,0.042,0.044,0.046,0.048,0.05],"labelExpr":"abs(datum.value*100 - round(datum.value*100)) < 0.000001 && datum.value > 0.001 ? format(datum.value, '.2f') : ''","labelOverlap":false,"labelFlush":false,"labelPadding":13,"domain":false,"grid":true,"gridOpacity":{"condition":{"test":"abs(datum.value*100 - round(datum.value*100)) < 0.000001 && datum.value > 0.001 && datum.value < 0.049","value":1},"value":0},"title":"|t| (GeV²)","titlePadding":0,"tickSize":{"condition":{"test":"abs(datum.value*100 - round(datum.value*100)) < 0.000001","value":-8},"value":-4}}},"y":{"field":"y","type":"quantitative","axis":{"orient":"left","values":[40,41,42,43,44,45,46,47,48,49,50,51,52,53,54,55,56,57,58,59,60,61,62,63,64,65,66,67,68,69,70,71,72,73,74,75,76,77,78,79,80,81,82,83,84,85,86,87,88,89,90,91,92,93,94,95,96,97,98,99,100,101,102,103,104,105,106,107,108,109,110,111,112,113,114,115,116,117,118,119,120,121,122,123,124,125,126,127,128,129,130,131,132,133,134,135,136,137,138,139,140,141,142,143,144,145,146,147,148,149,150,151,152,153,154,155,156,157,158,159,160,161,162,163,164,165,166,167,168,169,170],"labelExpr":"datum.value % 10 === 0 ? datum.label : ''","labelOverlap":false,"labelPadding":15,"domain":false,"grid":true,"gridOpacity":{"condition":{"test":"datum.value % 10 === 0 && datum.value > 40 && datum.value < 170","value":1},"value":0},"title":"dσ/dt (mb/GeV²)","titlePadding":8,"tickSize":{"condition":{"test":"datum.value % 10 === 0","value":-8},"value":-4}}},"color":{"datum":"FMO+C model","type":"nominal","scale":{"domain":["pp 52.8 GeV","FMO+C model"],"range":["#ff0000","#000000"]},"legend":{"title":null,"orient":"none","legendX":121,"legendY":6,"labelExpr":"replace(datum.label, ' set 2', '')","encode":{"symbols":{"update":{"shape":{"signal":"indexof(datum.value, 'FMO') === 0 ? 'M-5.4,0L5.4,0' : (indexof(datum.value, 'set 2') >= 0 ? 'M-5.4,0L5.4,0M-1.2,-1.2L1.2,-1.2L1.2,1.2L-1.2,1.2Z' : 'M-5.4,0L5.4,0M-1,-1L1,1M-1,1L1,-1')"},"stroke":{"signal":"indexof(datum.value, 'FMO') === 0 ? '#000000' : (indexof(datum.value, 'set 2') >= 0 ? '#0000ff' : '#ff0000')"},"fill":{"value":"transparent"},"strokeWidth":{"value":1.5}}}}}}}}
 ],"resolve":{"axis":{"x":"independent","y":"independent"}}},
 {"width":152,"height":272,"layer":[
  {"data":{"name":"d6a"},"mark":{"type":"rule","clip":true,"color":"#ff0000","strokeWidth":1},"encoding":{"x":{"field":"t","type":"quantitative","scale":{"domain":[0,0.05],"nice":false,"zero":false},"axis":{"orient":"top","values":[0,0.002,0.004,0.006,0.008,0.01,0.012,0.014,0.016,0.018,0.02,0.022,0.024,0.026,0.028,0.03,0.032,0.034,0.036,0.038,0.04,0.042,0.044,0.046,0.048,0.05],"labels":false,"grid":false,"domain":false,"title":null,"tickSize":{"condition":{"test":"abs(datum.value*100 - round(datum.value*100)) < 0.000001","value":-8},"value":-4}}},"y":{"field":"lo","type":"quantitative","scale":{"domain":[40,170],"nice":false,"zero":false},"axis":{"orient":"right","values":[40,41,42,43,44,45,46,47,48,49,50,51,52,53,54,55,56,57,58,59,60,61,62,63,64,65,66,67,68,69,70,71,72,73,74,75,76,77,78,79,80,81,82,83,84,85,86,87,88,89,90,91,92,93,94,95,96,97,98,99,100,101,102,103,104,105,106,107,108,109,110,111,112,113,114,115,116,117,118,119,120,121,122,123,124,125,126,127,128,129,130,131,132,133,134,135,136,137,138,139,140,141,142,143,144,145,146,147,148,149,150,151,152,153,154,155,156,157,158,159,160,161,162,163,164,165,166,167,168,169,170],"labels":false,"grid":false,"domain":false,"title":null,"tickSize":{"condition":{"test":"datum.value % 10 === 0","value":-8},"value":-4}}},"y2":{"field":"hi"}}},
  {"data":{"name":"d6a"},"mark":{"type":"point","shape":"M-1,-1L1,1M-1,1L1,-1","filled":false,"size":20,"color":"#ff0000","strokeWidth":1,"opacity":1,"clip":true},"encoding":{"x":{"field":"t","type":"quantitative","axis":null},"y":{"field":"y","type":"quantitative","axis":null}}},
  {"data":{"name":"d6b"},"mark":{"type":"rule","clip":true,"color":"#0000ff","strokeWidth":1},"encoding":{"x":{"field":"t","type":"quantitative","axis":null},"y":{"field":"lo","type":"quantitative","axis":null},"y2":{"field":"hi"}}},
  {"data":{"name":"d6b"},"mark":{"type":"point","shape":"square","filled":false,"size":30,"color":"#0000ff","strokeWidth":1.2,"opacity":1,"clip":true},"encoding":{"x":{"field":"t","type":"quantitative","axis":null},"y":{"field":"y","type":"quantitative","axis":null}}},
  {"data":{"name":"m6"},"mark":{"type":"line","interpolate":"monotone","clip":true,"strokeWidth":1.3},"encoding":{"x":{"field":"t","type":"quantitative","axis":{"orient":"bottom","values":[0,0.002,0.004,0.006,0.008,0.01,0.012,0.014,0.016,0.018,0.02,0.022,0.024,0.026,0.028,0.03,0.032,0.034,0.036,0.038,0.04,0.042,0.044,0.046,0.048,0.05],"labelExpr":"abs(datum.value*100 - round(datum.value*100)) < 0.000001 && datum.value > 0.001 ? format(datum.value, '.2f') : ''","labelOverlap":false,"labelFlush":false,"labelPadding":13,"domain":false,"grid":true,"gridOpacity":{"condition":{"test":"abs(datum.value*100 - round(datum.value*100)) < 0.000001 && datum.value > 0.001 && datum.value < 0.049","value":1},"value":0},"title":"|t| (GeV²)","titlePadding":0,"tickSize":{"condition":{"test":"abs(datum.value*100 - round(datum.value*100)) < 0.000001","value":-8},"value":-4}}},"y":{"field":"y","type":"quantitative","axis":{"orient":"left","values":[40,41,42,43,44,45,46,47,48,49,50,51,52,53,54,55,56,57,58,59,60,61,62,63,64,65,66,67,68,69,70,71,72,73,74,75,76,77,78,79,80,81,82,83,84,85,86,87,88,89,90,91,92,93,94,95,96,97,98,99,100,101,102,103,104,105,106,107,108,109,110,111,112,113,114,115,116,117,118,119,120,121,122,123,124,125,126,127,128,129,130,131,132,133,134,135,136,137,138,139,140,141,142,143,144,145,146,147,148,149,150,151,152,153,154,155,156,157,158,159,160,161,162,163,164,165,166,167,168,169,170],"labelExpr":"datum.value % 10 === 0 ? datum.label : ''","labelOverlap":false,"labelPadding":15,"domain":false,"grid":true,"gridOpacity":{"condition":{"test":"datum.value % 10 === 0 && datum.value > 40 && datum.value < 170","value":1},"value":0},"title":"dσ/dt (mb/GeV²)","titlePadding":12,"tickSize":{"condition":{"test":"datum.value % 10 === 0","value":-8},"value":-4}}},"color":{"datum":"FMO+C model","type":"nominal","scale":{"domain":["pp 62.5 GeV","pp 62.5 GeV set 2","FMO+C model"],"range":["#ff0000","#0000ff","#000000"]},"legend":{"title":null,"orient":"none","legendX":121,"legendY":6,"labelExpr":"replace(datum.label, ' set 2', '')","encode":{"symbols":{"update":{"shape":{"signal":"indexof(datum.value, 'FMO') === 0 ? 'M-5.4,0L5.4,0' : (indexof(datum.value, 'set 2') >= 0 ? 'M-5.4,0L5.4,0M-1.2,-1.2L1.2,-1.2L1.2,1.2L-1.2,1.2Z' : 'M-5.4,0L5.4,0M-1,-1L1,1M-1,1L1,-1')"},"stroke":{"signal":"indexof(datum.value, 'FMO') === 0 ? '#000000' : (indexof(datum.value, 'set 2') >= 0 ? '#0000ff' : '#ff0000')"},"fill":{"value":"transparent"},"strokeWidth":{"value":1.5}}}}}}}}
 ],"resolve":{"axis":{"x":"independent","y":"independent"}}}
],"spacing":66,"bounds":"flush","resolve":{"scale":{"color":"independent"},"legend":{"color":"independent"}}}
]
}
